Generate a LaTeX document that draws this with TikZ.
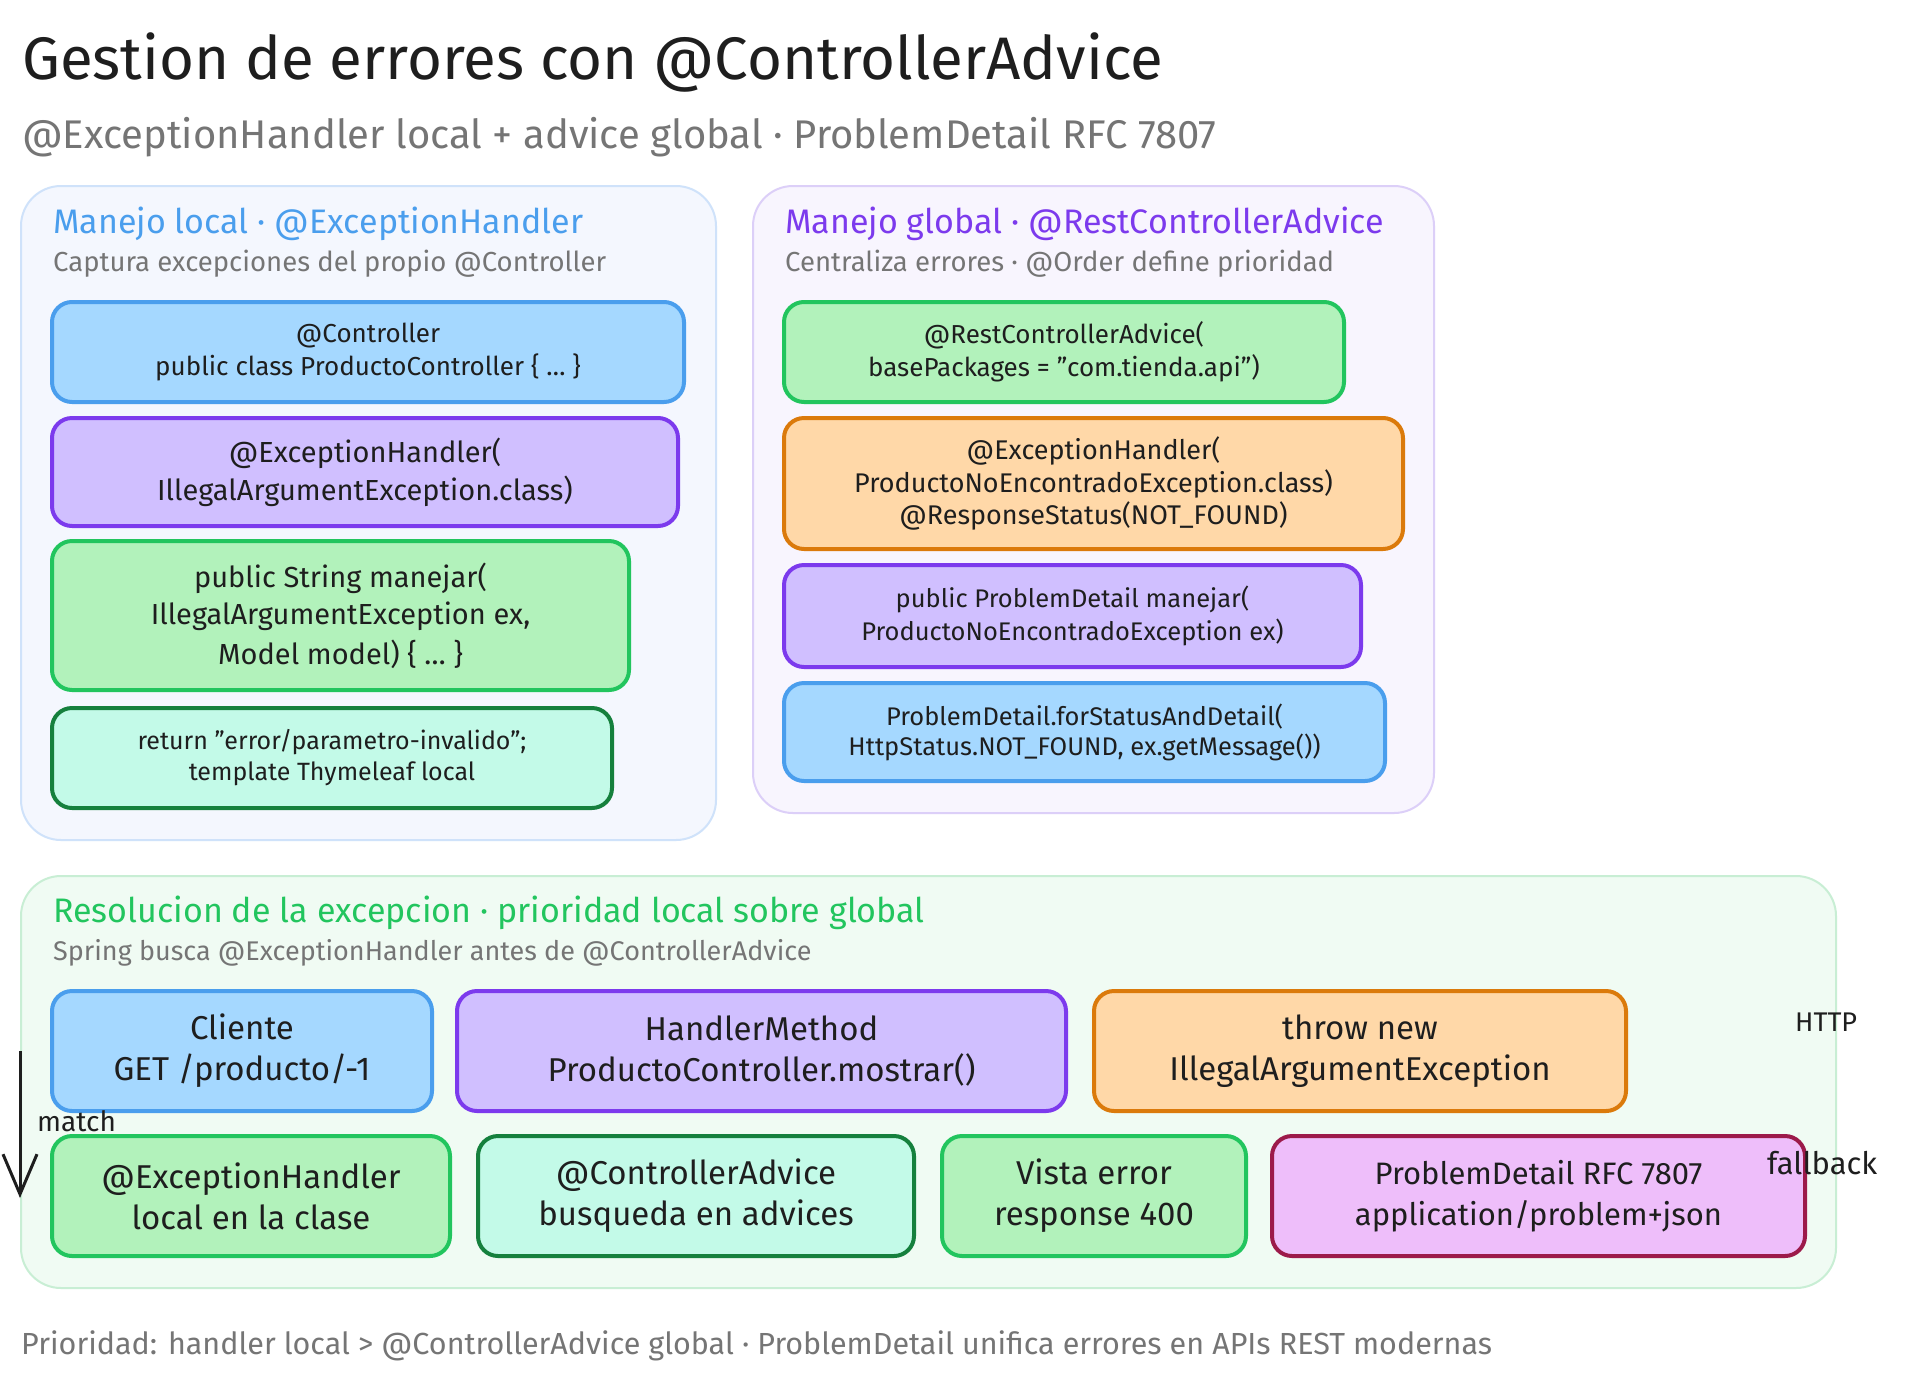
\documentclass[tikz,border=0pt]{standalone}
\usepackage{fontspec}
\setmainfont{Fira Sans}
\usetikzlibrary{arrows.meta}
\definecolor{ink}{HTML}{1E1E1E}
\definecolor{graytxt}{HTML}{757575}
\definecolor{bluestroke}{HTML}{4A9EED}
\definecolor{bluefill}{HTML}{A5D8FF}
\definecolor{purstroke}{HTML}{7C3AED}
\definecolor{purfill}{HTML}{D0BFFF}
\definecolor{grnstroke}{HTML}{22C55E}
\definecolor{grnfill}{HTML}{B2F2BB}
\definecolor{tealfill}{HTML}{C3FAE8}
\definecolor{dkgreen}{HTML}{15803D}
\definecolor{orstroke}{HTML}{DB7A0B}
\definecolor{orfill}{HTML}{FFD8A8}
\definecolor{pinkfill}{HTML}{EEBEFA}
\definecolor{pinkstroke}{HTML}{9C1A4A}
\definecolor{lpfill}{HTML}{F4F7FE}
\definecolor{lpstroke}{HTML}{CFE2FA}
\definecolor{rpfill}{HTML}{F8F5FE}
\definecolor{rpstroke}{HTML}{DCCFF8}
\definecolor{bpfill}{HTML}{F0FBF3}
\definecolor{bpstroke}{HTML}{C8EED4}
\definecolor{hdrblue}{HTML}{4A9EED}
\definecolor{hdrpur}{HTML}{7C3AED}
\definecolor{hdrgrn}{HTML}{22C55E}
\newcommand{\fs}[1]{\fontsize{#1}{#1}\selectfont}
\tikzset{
  panel/.style={draw, line width=2pt, rounded corners=40pt, inner sep=0pt},
  bx/.style={draw, line width=4pt, rounded corners=20pt, inner sep=0pt, align=center, text=ink},
  hdr/.style={anchor=base west, inner sep=0pt},
  subt/.style={anchor=base west, inner sep=0pt, text=graytxt},
}
\begin{document}
\begin{tikzpicture}[x=1pt,y=-1pt]
\useasboundingbox[fill=white] (0,0) rectangle (1923,1385);

% title
\node[hdr, text=ink, font=\fs{60}] (title) at (22,79) {Gestion de errores con @ControllerAdvice};
\node[subt, font=\fs{40}] (subtitle) at (22,148) {@ExceptionHandler local + advice global · ProblemDetail RFC 7807};

% panels
\node[panel, fill=lpfill, draw=lpstroke, minimum width=695pt, minimum height=654pt] (lp) at (368.5,513) {};
\node[panel, fill=rpfill, draw=rpstroke, minimum width=681pt, minimum height=627pt] (rp) at (1093.5,499.5) {};
\node[panel, fill=bpfill, draw=bpstroke, minimum width=1815pt, minimum height=412pt] (bp) at (928.5,1082) {};

% left panel
\node[hdr, text=hdrblue, font=\fs{34}] (lh) at (53,233) {Manejo local · @ExceptionHandler};
\node[subt, font=\fs{27.5}] (ls) at (53,271) {Captura excepciones del propio @Controller};
\node[bx, fill=bluefill, draw=bluestroke, minimum width=632pt, minimum height=100pt, font=\fs{26}] (l1) at (368,352)
  {@Controller\\[4pt]public class ProductoController \{ … \}};
\node[bx, fill=purfill, draw=purstroke, minimum width=626pt, minimum height=108pt, font=\fs{29}] (l2) at (365,472)
  {@ExceptionHandler(\\[6pt]IllegalArgumentException.class)};
\node[bx, fill=grnfill, draw=grnstroke, minimum width=577pt, minimum height=149pt, font=\fs{29}] (l3) at (340.5,615.5)
  {public String manejar(\\[8pt]IllegalArgumentException ex,\\[8pt]Model model) \{ … \}};
\node[bx, fill=tealfill, draw=dkgreen, minimum width=560pt, minimum height=100pt, font=\fs{25}] (l4) at (332,758)
  {return "error/parametro-invalido";\\[6pt]template Thymeleaf local};

% right panel
\node[hdr, text=hdrpur, font=\fs{34}] (rh) at (785,233) {Manejo global · @RestControllerAdvice};
\node[subt, font=\fs{27.5}] (rs) at (785,271) {Centraliza errores · @Order define prioridad};
\node[bx, fill=grnfill, draw=grnstroke, minimum width=560pt, minimum height=100pt, font=\fs{26}] (r1) at (1064,352)
  {@RestControllerAdvice(\\[4pt]basePackages = "com.tienda.api")};
\node[bx, fill=orfill, draw=orstroke, minimum width=619pt, minimum height=131pt, font=\fs{27}] (r2) at (1093.5,483.5)
  {@ExceptionHandler(\\[3pt]ProductoNoEncontradoException.class)\\[3pt]@ResponseStatus(NOT\_FOUND)};
\node[bx, fill=purfill, draw=purstroke, minimum width=577pt, minimum height=102pt, font=\fs{25.5}] (r3) at (1072.5,616)
  {public ProblemDetail manejar(\\[5.5pt]ProductoNoEncontradoException ex)};
\node[bx, fill=bluefill, draw=bluestroke, minimum width=601pt, minimum height=98pt, font=\fs{25.5}] (r4) at (1084.5,732)
  {ProblemDetail.forStatusAndDetail(\\[4.5pt]HttpStatus.NOT\_FOUND, ex.getMessage())};

% bottom panel
\node[hdr, text=hdrgrn, font=\fs{34}] (bh) at (53,922) {Resolucion de la excepcion · prioridad local sobre global};
\node[subt, font=\fs{27}] (bs) at (53,960) {Spring busca @ExceptionHandler antes de @ControllerAdvice};

\node[bx, fill=bluefill, draw=bluestroke, minimum width=380pt, minimum height=120pt, font=\fs{33}] (b1) at (242,1051)
  {Cliente\\[8pt]GET /producto/-1};
\node[bx, fill=purfill, draw=purstroke, minimum width=609pt, minimum height=120pt, font=\fs{33}] (b2) at (761.5,1051)
  {HandlerMethod\\[8pt]ProductoController.mostrar()};
\node[bx, fill=orfill, draw=orstroke, minimum width=532pt, minimum height=120pt, font=\fs{33}] (b3) at (1360,1051)
  {throw new\\[8pt]IllegalArgumentException};

\node[bx, fill=grnfill, draw=grnstroke, minimum width=398pt, minimum height=120pt, font=\fs{33}] (c1) at (251,1196)
  {@ExceptionHandler\\[8pt]local en la clase};
\node[bx, fill=tealfill, draw=dkgreen, minimum width=436pt, minimum height=120pt, font=\fs{33}] (c2) at (696,1196)
  {@ControllerAdvice\\[8pt]busqueda en advices};
\node[bx, fill=grnfill, draw=grnstroke, minimum width=304pt, minimum height=120pt, font=\fs{33}] (c3) at (1094,1196)
  {Vista error\\[8pt]response 400};
\node[bx, fill=pinkfill, draw=pinkstroke, minimum width=533pt, minimum height=120pt, font=\fs{31}] (c4) at (1538.5,1196)
  {ProblemDetail RFC 7807\\[10pt]application/problem+json};

% match arrow
\coordinate (ms) at (20,1051);
\coordinate (me) at (20,1198);
\draw[line width=3pt, ink, -{Straight Barb[length=40pt,width=34pt,line width=3pt]}] (ms) -- (me);
\node[anchor=base west, inner sep=0pt, text=ink, font=\fs{28}] (mlab) at (37,1131) {match};

% loose labels
\node[anchor=base west, inner sep=0pt, text=ink, font=\fs{27}] (http) at (1795,1031) {HTTP};
\node[anchor=base west, inner sep=0pt, text=ink, font=\fs{31}] (fb) at (1767,1174) {fallback};

% footer
\node[subt, font=\fs{30.5}] (foot) at (21,1354) {Prioridad: handler local > @ControllerAdvice global · ProblemDetail unifica errores en APIs REST modernas};
\end{tikzpicture}
\end{document}
